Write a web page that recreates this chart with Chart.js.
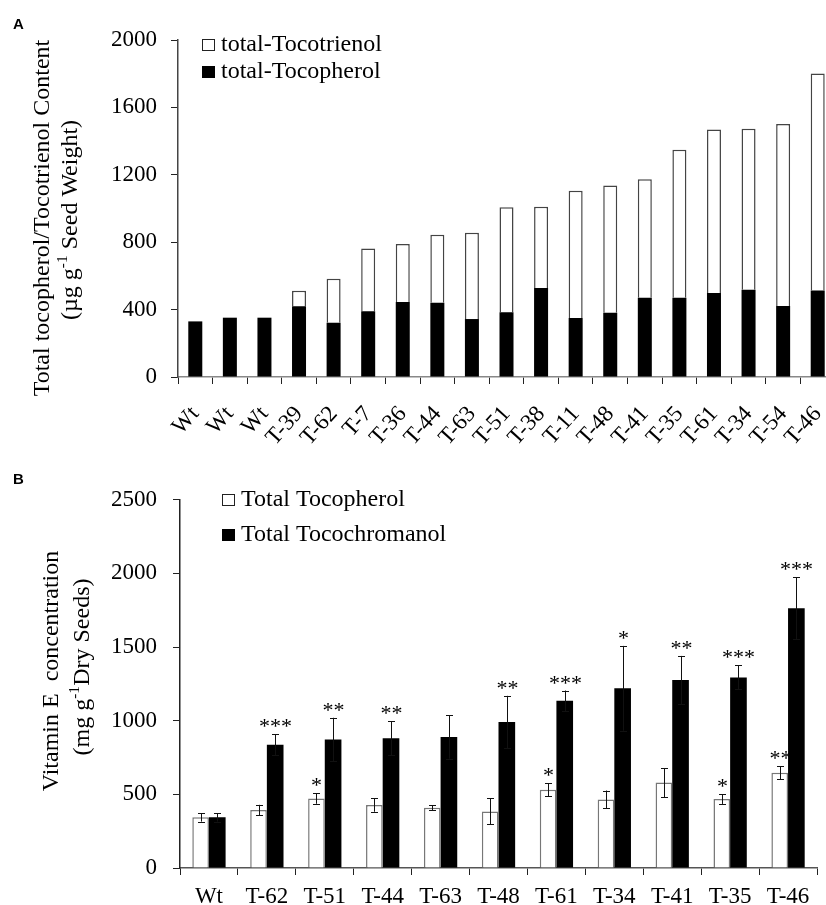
<!DOCTYPE html>
<html>
<head>
<meta charset="utf-8">
<script src="https://cdn.jsdelivr.net/npm/chart.js@4.4.1/dist/chart.umd.min.js"></script>
<style>
  body { margin: 0; background: #fff; }
  #wrap { position: relative; width: 826px; height: 905px; overflow: hidden; background: #fff; }
  #chartA { position: absolute; left: 0; top: 0; }
  #chartB { position: absolute; left: 0; top: 470px; }
</style>
</head>
<body>
<div id="wrap">
  <canvas id="chartA" width="860" height="470"></canvas>
  <canvas id="chartB" width="826" height="435"></canvas>
</div>
<script>
// Panel A data
const linesA = ['Wt', 'Wt', 'Wt', 'T-39', 'T-62', 'T-7', 'T-36', 'T-44', 'T-63', 'T-51', 'T-38',
    'T-11', 'T-48', 'T-41', 'T-35', 'T-61', 'T-34', 'T-54', 'T-46'];
const tocopherolA = [330, 352, 352, 420, 322, 390, 445, 441, 344, 384, 528, 350, 381, 470, 470, 498, 518, 421, 514];
const tocotrienolA = [0, 0, 0, 92, 261, 373, 345, 403, 512, 624, 482, 755, 756, 704, 878, 971, 955, 1081, 1287];
const ticksA = [0, 400, 800, 1200, 1600, 2000];

// Panel B data
const linesB = ['Wt', 'T-62', 'T-51', 'T-44', 'T-63', 'T-48', 'T-61', 'T-34', 'T-41', 'T-35', 'T-46'];
const tocopherolB = [344, 393, 472, 427, 409, 384, 532, 465, 580, 468, 647];
const tocopherolErrB = [29, 36, 36, 45, 16, 88, 45, 61, 99, 33, 43];
const tocochromanolB = [344, 836, 872, 881, 890, 991, 1135, 1220, 1276, 1294, 1764];
const tocochromanolErrB = [29, 72, 148, 114, 148, 178, 70, 288, 164, 81, 209];
const starsTocopherolB = ['', '', '*', '', '', '', '*', '', '', '*', '**'];
const starsTocochromanolB = ['', '***', '**', '**', '', '**', '***', '*', '**', '***', '***'];
const ticksB = [0, 500, 1000, 1500, 2000, 2500];

const SERIF = '"Liberation Serif", "Times New Roman", serif';

// draws rotated text with superscript parts, centred on (x, y)
function drawRotated(ctx, x, y, parts, size) {
    ctx.save();
    ctx.translate(x, y);
    ctx.rotate(-Math.PI / 2);
    ctx.fillStyle = '#000';
    ctx.textBaseline = 'middle';
    ctx.textAlign = 'left';
    let total = 0;
    parts.forEach(p => {
        ctx.font = (p.sup ? size * 0.65 : size) + 'px ' + SERIF;
        p.w = ctx.measureText(p.t).width;
        total += p.w;
    });
    let cx = -total / 2;
    parts.forEach(p => {
        ctx.font = (p.sup ? size * 0.65 : size) + 'px ' + SERIF;
        ctx.fillText(p.t, cx, p.sup ? -size * 0.33 : 0);
        cx += p.w;
    });
    ctx.restore();
}

// legend entries drawn from the datasets, in the given order
function drawLegend(ctx, chart, order, x, y, gap) {
    ctx.save();
    ctx.font = '24px ' + SERIF;
    ctx.textBaseline = 'alphabetic';
    ctx.textAlign = 'left';
    order.forEach((d, i) => {
        const ds = chart.data.datasets[d];
        const base = y + i * gap;
        if (ds.backgroundColor === '#000') {
            ctx.fillStyle = '#000';
            ctx.fillRect(x, base - 12, 13, 12);
        } else {
            ctx.strokeStyle = '#222';
            ctx.lineWidth = 1;
            ctx.strokeRect(x + 0.5, base - 11.5, 12, 11);
        }
        ctx.fillStyle = '#000';
        ctx.fillText(ds.label, x + 19, base);
    });
    ctx.restore();
}

function panelLetter(ctx, letter, x, y) {
    ctx.save();
    ctx.font = 'bold 15px "Liberation Sans", Arial, sans-serif';
    ctx.fillStyle = '#000';
    ctx.textBaseline = 'alphabetic';
    ctx.fillText(letter, x, y);
    ctx.restore();
}

const decorA = {
    id: 'decorA',
    afterDraw(chart) {
        const ctx = chart.ctx;
        panelLetter(ctx, 'A', 13, 29);
        drawRotated(ctx, 43, 218, [{ t: 'Total tocopherol/Tocotrienol Content' }], 24);
        drawRotated(ctx, 71, 220, [{ t: '(µg g' }, { t: '-1', sup: true }, { t: ' Seed Weight)' }], 24);
        drawLegend(ctx, chart, [1, 0], 202, 51, 27);
    }
};

const decorB = {
    id: 'decorB',
    afterDatasetsDraw(chart) {
        const ctx = chart.ctx;
        const y = chart.scales.y;
        const errs = [tocopherolErrB, tocochromanolErrB];
        const stars = [starsTocopherolB, starsTocochromanolB];
        ctx.save();
        chart.data.datasets.forEach((ds, d) => {
            const meta = chart.getDatasetMeta(d);
            meta.data.forEach((bar, i) => {
                const v = ds.data[i];
                const e = errs[d][i];
                const x = Math.round(bar.x) + 0.5;
                const top = y.getPixelForValue(v + e);
                const bot = y.getPixelForValue(v - e);
                ctx.strokeStyle = '#111';
                ctx.lineWidth = 1;
                ctx.beginPath();
                ctx.moveTo(x, top); ctx.lineTo(x, bot);
                ctx.moveTo(x - 3.5, Math.round(top) + 0.5); ctx.lineTo(x + 3.5, Math.round(top) + 0.5);
                ctx.moveTo(x - 3.5, Math.round(bot) + 0.5); ctx.lineTo(x + 3.5, Math.round(bot) + 0.5);
                ctx.stroke();
                if (stars[d][i]) {
                    ctx.font = '22px ' + SERIF;
                    ctx.fillStyle = '#000';
                    ctx.textAlign = 'center';
                    ctx.textBaseline = 'alphabetic';
                    ctx.fillText(stars[d][i], x, top - 1);
                }
            });
        });
        ctx.restore();
    },
    afterDraw(chart) {
        const ctx = chart.ctx;
        panelLetter(ctx, 'B', 13, 14);
        drawRotated(ctx, 52, 201, [{ t: 'Vitamin E  concentration' }], 24);
        drawRotated(ctx, 83, 197, [{ t: '(mg g' }, { t: '-1', sup: true }, { t: 'Dry Seeds)' }], 24);
        drawLegend(ctx, chart, [0, 1], 222, 36, 35);
    }
};

const tickFont = { family: SERIF, size: 23 };

// Panel A: stacked bars
new Chart(document.getElementById('chartA').getContext('2d'), {
    type: 'bar',
    data: {
        labels: linesA,
        datasets: [{
            label: 'total-Tocopherol',
            data: tocopherolA,
            backgroundColor: '#000',
            borderColor: '#000',
            borderWidth: 0
        }, {
            label: 'total-Tocotrienol',
            data: tocotrienolA,
            backgroundColor: '#fff',
            borderColor: '#444',
            borderWidth: { top: 1.5, left: 1.5, right: 1.5, bottom: 0 }
        }]
    },
    options: {
        responsive: false,
        animation: false,
        devicePixelRatio: 1,
        layout: { padding: { top: 40, right: 25, left: 0, bottom: 0 } },
        datasets: { bar: { categoryPercentage: 1, barPercentage: 0.405 } },
        plugins: { legend: { display: false }, tooltip: { enabled: false } },
        scales: {
            x: {
                stacked: true,
                offset: true,
                afterFit: s => { s.height = 93; },
                grid: { offset: true, drawOnChartArea: false, tickLength: 7, color: '#222' },
                border: { color: '#888', width: 1.5 },
                ticks: {
                    autoSkip: false, minRotation: 48, maxRotation: 48, padding: 17,
                    color: '#000', font: tickFont
                }
            },
            y: {
                stacked: true,
                min: 0, max: 2000,
                afterFit: s => { s.width = 178; },
                afterBuildTicks: s => { s.ticks = ticksA.map(v => ({ value: v })); },
                grid: { drawOnChartArea: false, tickLength: 7, color: '#222' },
                border: { color: '#444', width: 1.5 },
                ticks: { padding: 14, color: '#000', font: tickFont, callback: v => String(v) }
            }
        }
    },
    plugins: [decorA]
});

// Panel B: grouped bars with error bars
new Chart(document.getElementById('chartB').getContext('2d'), {
    type: 'bar',
    data: {
        labels: linesB,
        datasets: [{
            label: 'Total Tocopherol',
            data: tocopherolB,
            backgroundColor: '#fff',
            borderColor: '#777',
            borderWidth: { top: 1.5, left: 1.5, right: 1.5, bottom: 0 }
        }, {
            label: 'Total Tocochromanol',
            data: tocochromanolB,
            backgroundColor: '#000',
            borderWidth: 0
        }]
    },
    options: {
        responsive: false,
        animation: false,
        devicePixelRatio: 1,
        layout: { padding: { top: 27, right: 9, left: 0, bottom: 0 } },
        datasets: { bar: { categoryPercentage: 0.575, barPercentage: 1 } },
        plugins: { legend: { display: false }, tooltip: { enabled: false } },
        scales: {
            x: {
                offset: true,
                afterFit: s => { s.height = 37; },
                grid: { offset: true, drawOnChartArea: false, tickLength: 7, color: '#222' },
                border: { color: '#555', width: 1.5 },
                ticks: {
                    autoSkip: false, maxRotation: 0, padding: 8,
                    color: '#000', font: tickFont
                }
            },
            y: {
                min: 0, max: 2500,
                afterFit: s => { s.width = 180; },
                afterBuildTicks: s => { s.ticks = ticksB.map(v => ({ value: v })); },
                grid: { drawOnChartArea: false, tickLength: 7, color: '#222' },
                border: { color: '#222', width: 1.5 },
                ticks: { padding: 16, color: '#000', font: tickFont, callback: v => String(v) }
            }
        }
    },
    plugins: [decorB]
});
</script>
</body>
</html>
